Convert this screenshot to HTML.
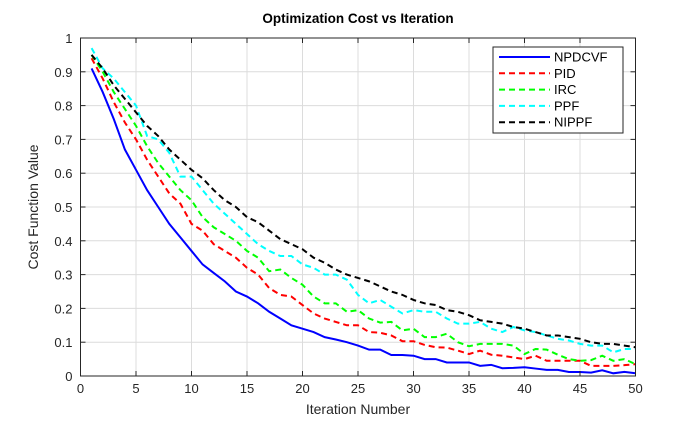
<!DOCTYPE html>
<html><head><meta charset="utf-8"><style>
body{margin:0;background:#fff;}
svg{display:block;font-family:"Liberation Sans",sans-serif;}
</style></head><body>
<svg id="chart" width="682" height="433" viewBox="0 0 682 433">
<text x="358" y="23" text-anchor="middle" font-weight="bold" font-size="13.5">Optimization Cost vs Iteration</text>
<g id="grid"></g>
<g id="series"></g>
<rect x="80.5" y="38" width="555" height="338" fill="none" stroke="#262626" stroke-width="1"/>
<g id="ticks"></g>
<text x="358" y="414" text-anchor="middle" font-size="14" fill="#262626">Iteration Number</text>
<text transform="translate(38,207) rotate(-90)" text-anchor="middle" font-size="14" fill="#262626">Cost Function Value</text>
<g id="legend"></g>
</svg>
<script>
const iterations = Array.from({length:50},(_,i)=>i+1);
const seriesNames = ["NPDCVF","PID","IRC","PPF","NIPPF"];
const npdcvf = [0.91,0.84,0.76,0.67,0.61,0.55,0.50,0.45,0.41,0.37,0.33,0.305,0.28,0.25,0.235,0.215,0.19,0.17,0.15,0.14,0.13,0.115,0.108,0.10,0.09,0.078,0.078,0.062,0.062,0.06,0.05,0.05,0.04,0.04,0.04,0.03,0.033,0.023,0.024,0.026,0.022,0.018,0.018,0.012,0.012,0.01,0.017,0.008,0.012,0.008];
const pid = [0.94,0.88,0.81,0.75,0.70,0.64,0.59,0.54,0.51,0.45,0.43,0.39,0.37,0.35,0.32,0.30,0.26,0.24,0.235,0.21,0.185,0.17,0.16,0.15,0.15,0.13,0.128,0.12,0.103,0.103,0.092,0.085,0.084,0.075,0.065,0.075,0.063,0.06,0.055,0.05,0.06,0.045,0.045,0.045,0.045,0.03,0.03,0.03,0.032,0.035];
const irc = [0.95,0.90,0.84,0.79,0.74,0.68,0.63,0.59,0.55,0.52,0.47,0.44,0.42,0.40,0.37,0.35,0.31,0.315,0.29,0.27,0.235,0.215,0.215,0.19,0.195,0.17,0.158,0.16,0.135,0.14,0.115,0.115,0.125,0.10,0.088,0.095,0.095,0.095,0.09,0.065,0.08,0.078,0.063,0.05,0.045,0.047,0.06,0.045,0.05,0.035];
const ppf = [0.97,0.91,0.88,0.84,0.80,0.71,0.70,0.66,0.59,0.59,0.55,0.51,0.48,0.45,0.42,0.39,0.37,0.355,0.355,0.33,0.32,0.30,0.30,0.285,0.24,0.215,0.225,0.205,0.185,0.195,0.19,0.19,0.17,0.155,0.155,0.16,0.14,0.13,0.145,0.135,0.13,0.12,0.11,0.105,0.095,0.09,0.09,0.07,0.08,0.08];
const nippf = [0.95,0.91,0.86,0.82,0.78,0.74,0.71,0.67,0.64,0.61,0.585,0.55,0.52,0.50,0.47,0.455,0.43,0.405,0.39,0.375,0.35,0.335,0.315,0.30,0.29,0.28,0.265,0.25,0.24,0.225,0.215,0.21,0.195,0.19,0.18,0.165,0.16,0.155,0.145,0.14,0.13,0.12,0.12,0.115,0.11,0.10,0.095,0.095,0.09,0.085];
const xTicks = [0,5,10,15,20,25,30,35,40,45,50];
const yTicks = [0,0.1,0.2,0.3,0.4,0.5,0.6,0.7,0.8,0.9,1];
const yTickLabels = ["0","0.1","0.2","0.3","0.4","0.5","0.6","0.7","0.8","0.9","1"];

const L=80.5,R=635.5,T=38,B=376;
const xs=v=>L+(v-0)/(50-0)*(R-L);
const ys=v=>B-(v-0)/(1-0)*(B-T);
const NS="http://www.w3.org/2000/svg";
function mk(tag,attrs,parent){const e=document.createElementNS(NS,tag);for(const k in attrs)e.setAttribute(k,attrs[k]);parent.appendChild(e);return e;}
const grid=document.getElementById('grid'),ticks=document.getElementById('ticks'),ser=document.getElementById('series'),leg=document.getElementById('legend');
xTicks.forEach(t=>{
  const g=mk('line',{x1:xs(t),x2:xs(t),y1:T,y2:B,stroke:'#dcdcdc','stroke-width':1},grid);
  
  
  mk('line',{x1:xs(t),x2:xs(t),y1:B,y2:B-5,stroke:'#262626'},ticks);
  mk('line',{x1:xs(t),x2:xs(t),y1:T,y2:T+5,stroke:'#262626'},ticks);
  const tx=mk('text',{x:xs(t),y:B+17,'text-anchor':'middle','font-size':13,fill:'#262626'},ticks);
  tx.textContent=t;
  
  
});
yTicks.forEach((t,i)=>{
  const g=mk('line',{x1:L,x2:R,y1:ys(t),y2:ys(t),stroke:'#dcdcdc','stroke-width':1},grid);
  
  
  mk('line',{x1:L,x2:L+5,y1:ys(t),y2:ys(t),stroke:'#262626'},ticks);
  mk('line',{x1:R,x2:R-5,y1:ys(t),y2:ys(t),stroke:'#262626'},ticks);
  const tx=mk('text',{x:L-8,y:ys(t)+5,'text-anchor':'end','font-size':13,fill:'#262626'},ticks);
  tx.textContent=yTickLabels[i];
  
  
});
const styles=[
 {data:npdcvf,color:'#0000ff',dash:'none',name:'npdcvf'},
 {data:pid,color:'#ff0000',dash:'6,4',name:'pid'},
 {data:irc,color:'#00ff00',dash:'6,4',name:'irc'},
 {data:ppf,color:'#00ffff',dash:'6,4',name:'ppf'},
 {data:nippf,color:'#000000',dash:'6,4',name:'nippf'}];
styles.forEach((s,i)=>{
  const d=s.data.map((v,j)=>(j?'L':'M')+xs(iterations[j]).toFixed(2)+','+ys(v).toFixed(2)).join(' ');
  const p=mk('path',{d:d,fill:'none',stroke:s.color,'stroke-width':2,'stroke-dasharray':s.dash},ser);
  
  
});
mk('rect',{x:493,y:47,width:130,height:86,fill:'#fff',stroke:'#262626','stroke-width':1},leg);
styles.forEach((s,i)=>{
  const y=57+i*16.3;
  const g=mk('g',{},leg);
  
  
  mk('line',{x1:499,x2:550,y1:y,y2:y,stroke:s.color,'stroke-width':2,'stroke-dasharray':s.dash},g);
  const t=mk('text',{x:554,y:y+4.5,'font-size':13,fill:'#000'},g);
  t.textContent=seriesNames[i];
});
</script>
</body></html>
